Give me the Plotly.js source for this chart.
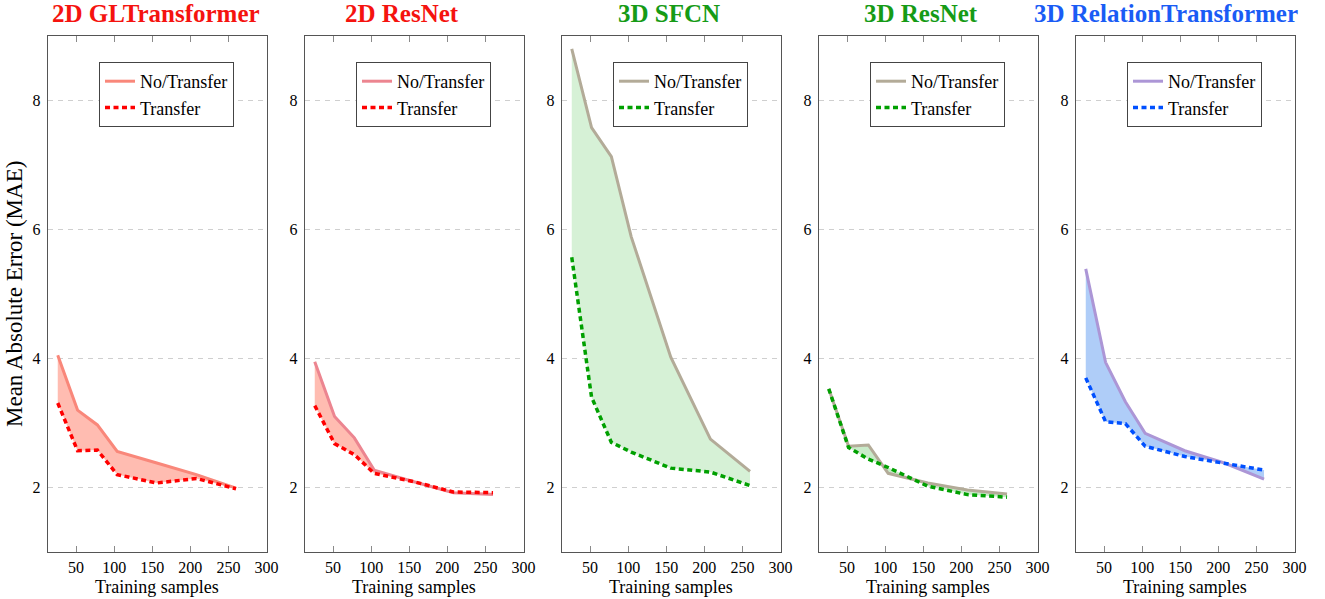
<!DOCTYPE html>
<html>
<head>
<meta charset="utf-8">
<script src="https://cdn.plot.ly/plotly-3.0.1.min.js"></script>
<style>
  html, body { margin: 0; padding: 0; background: #ffffff; }
  #chart { width: 1325px; height: 599px; }
</style>
</head>
<body>
<div id="chart"></div>
<script>
// ---- data ----
const samples = [26, 52, 78, 104, 156, 208, 260];

const panelTitles = ["2D GLTransformer", "2D ResNet", "3D SFCN", "3D ResNet", "3D RelationTransformer"];
const seriesNames = ["No/Transfer", "Transfer"];

const gl2dNoTransfer     = [4.05, 3.20, 2.97, 2.56, 2.38, 2.20, 1.99];
const gl2dTransfer       = [3.31, 2.57, 2.58, 2.20, 2.07, 2.14, 1.98];

const resnet2dNoTransfer = [3.95, 3.10, 2.77, 2.27, 2.09, 1.92, 1.89];
const resnet2dTransfer   = [3.27, 2.68, 2.51, 2.22, 2.09, 1.93, 1.92];

const sfcn3dNoTransfer   = [8.80, 7.58, 7.13, 5.89, 4.02, 2.75, 2.25];
const sfcn3dTransfer     = [5.57, 3.40, 2.70, 2.55, 2.30, 2.24, 2.03];

const resnet3dNoTransfer = [3.53, 2.64, 2.66, 2.22, 2.07, 1.96, 1.90];
const resnet3dTransfer   = [3.53, 2.62, 2.44, 2.31, 2.02, 1.89, 1.85];

const relTrNoTransfer    = [5.39, 3.94, 3.33, 2.84, 2.57, 2.38, 2.13];
const relTrTransfer      = [3.70, 3.02, 2.99, 2.64, 2.48, 2.38, 2.27];

const xTickVals = [50, 100, 150, 200, 250, 300];
const yTickVals = [2, 4, 6, 8];
const xAxisLabel = "Training samples";
const yAxisLabel = "Mean Absolute Error (MAE)";

// ---- styling ----
const noTransferSeries = [gl2dNoTransfer, resnet2dNoTransfer, sfcn3dNoTransfer, resnet3dNoTransfer, relTrNoTransfer];
const transferSeries   = [gl2dTransfer, resnet2dTransfer, sfcn3dTransfer, resnet3dTransfer, relTrTransfer];
const titleColors   = ["#f5130f", "#f5130f", "#169b16", "#169b16", "#1a5cf5"];
const noTrColors    = ["#f9877a", "#ec8590", "#b3ab98", "#b3ab98", "#ac96d6"];
const fillColors    = ["#ffbcb1", "#ffbcb1", "#d6f1d6", "#c9ebc9", "#afcdf8"];
const trColors      = ["#ff0000", "#ff0000", "#00a000", "#00a000", "#0050ff"];
const titleCenters  = [156, 402, 669, 921, 1166];

const W = 1325, H = 599;
const M = {l: 48, r: 30, t: 36, b: 47};
const PW = W - M.l - M.r, PH = H - M.t - M.b;
const panelStep = 257, panelWidth = 218.5;
const FONT = "Liberation Serif, Times New Roman, serif";

const traces = [];
const layout = {
  width: W, height: H,
  margin: M,
  paper_bgcolor: "#ffffff",
  plot_bgcolor: "#ffffff",
  font: {family: FONT, color: "#000000", size: 16},
  showlegend: true,
  annotations: []
};

for (let i = 0; i < 5; i++) {
  const sfx = i === 0 ? "" : String(i + 1);
  const xa = "x" + sfx, ya = "y" + sfx;
  const lg = "legend" + sfx;

  // hidden boundary for the fill
  traces.push({x: samples, y: noTransferSeries[i], xaxis: xa, yaxis: ya, mode: "lines",
    line: {width: 0, color: fillColors[i]}, showlegend: false, hoverinfo: "skip", legend: lg});
  traces.push({x: samples, y: transferSeries[i], xaxis: xa, yaxis: ya, mode: "lines",
    line: {width: 0, color: fillColors[i]}, fill: "tonexty", fillcolor: fillColors[i],
    showlegend: false, hoverinfo: "skip", legend: lg});
  // visible lines
  traces.push({x: samples, y: noTransferSeries[i], xaxis: xa, yaxis: ya, mode: "lines",
    name: seriesNames[0], legend: lg, line: {width: 3, color: noTrColors[i]}});
  traces.push({x: samples, y: transferSeries[i], xaxis: xa, yaxis: ya, mode: "lines",
    name: seriesNames[1], legend: lg, line: {width: 3.5, color: trColors[i], dash: "5px,3.5px"}});

  const x0 = (panelStep * i) / PW;
  const x1 = (panelStep * i + panelWidth) / PW;

  layout["xaxis" + sfx] = {
    domain: [x0, x1], anchor: ya, range: [13.2, 300],
    tickvals: xTickVals, ticks: "inside", ticklen: 6, tickcolor: "#8a8a8a", tickwidth: 1,
    showline: true, linecolor: "#555555", linewidth: 1.3, mirror: "ticks",
    showgrid: false, zeroline: false,
    tickfont: {family: FONT, size: 16, color: "#000"}
  };
  layout["yaxis" + sfx] = {
    domain: [0, 1], anchor: xa, range: [1, 9],
    tickvals: yTickVals, ticks: "", ticklabelstandoff: 3,
    showline: true, linecolor: "#555555", linewidth: 1.3, mirror: true,
    showgrid: true, gridcolor: "#cfcfcf", griddash: "5px,5px", gridwidth: 1,
    zeroline: false,
    tickfont: {family: FONT, size: 16, color: "#000"}
  };
  layout[lg] = {
    x: (99 + panelStep * i - M.l) / PW, xanchor: "left", xref: "paper",
    y: 1 - (62 - M.t) / PH, yanchor: "top", yref: "paper",
    bgcolor: "#ffffff", bordercolor: "#444444", borderwidth: 1,
    font: {family: FONT, size: 18, color: "#000"},
    traceorder: "normal", tracegroupgap: 0, itemwidth: 30
  };

  layout.annotations.push({
    text: "<b>" + panelTitles[i] + "</b>", showarrow: false,
    xref: "paper", yref: "paper",
    x: (titleCenters[i] - M.l) / PW, xanchor: "center",
    y: 1 + (M.t - 14) / PH, yanchor: "middle",
    font: {family: FONT, size: 25, color: titleColors[i]}
  });
  layout.annotations.push({
    text: xAxisLabel, showarrow: false,
    xref: "paper", yref: "paper",
    x: (panelStep * i + panelWidth / 2) / PW, xanchor: "center",
    y: -(587 - (H - M.b)) / PH, yanchor: "middle",
    font: {family: FONT, size: 18, color: "#000"}
  });
}

layout.annotations.push({
  text: yAxisLabel, showarrow: false, textangle: -90,
  xref: "paper", yref: "paper",
  x: (14 - M.l) / PW, xanchor: "center",
  y: 0.5, yanchor: "middle",
  font: {family: FONT, size: 23, color: "#000"}
});

Plotly.newPlot("chart", traces, layout, {displayModeBar: false, staticPlot: true});
</script>
</body>
</html>
